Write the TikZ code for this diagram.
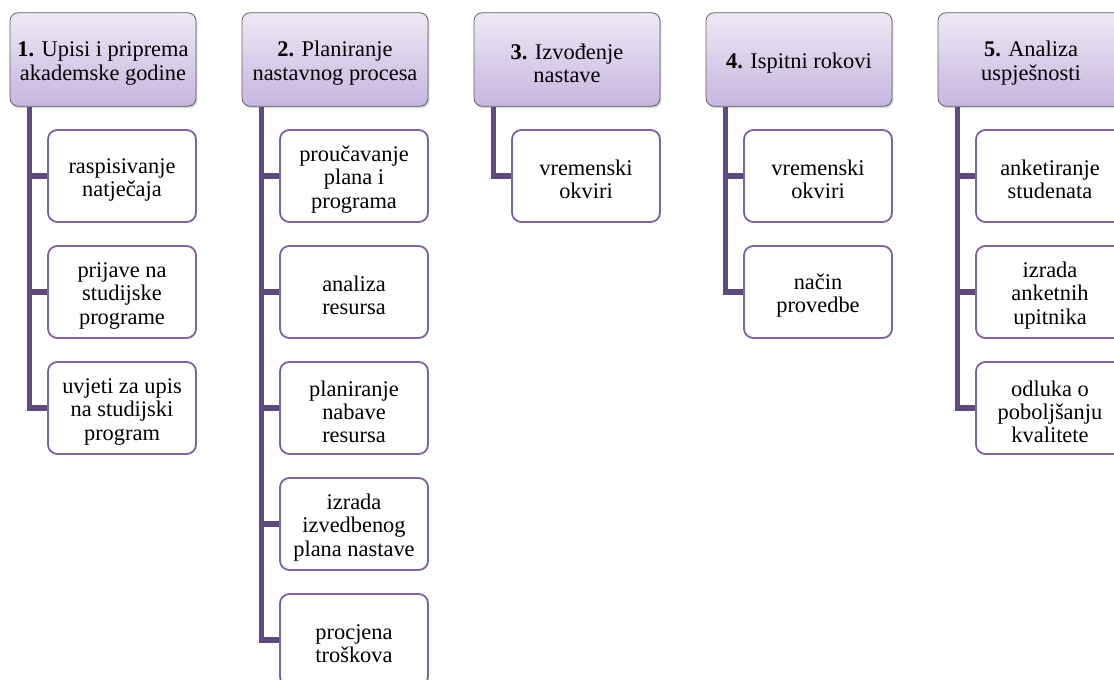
\documentclass[tikz,border=0pt]{standalone}
\usepackage{fontspec}
\setmainfont{Liberation Serif}
\usetikzlibrary{shadows}
\definecolor{headtop}{HTML}{EDE8F5}
\definecolor{headbottom}{HTML}{C8B6E0}
\definecolor{trunkcol}{HTML}{5F4A7D}
\definecolor{itemcol}{HTML}{8064A2}
\begin{document}
\begin{tikzpicture}[x=0.75pt, y=-0.75pt, font=\fontsize{16.8}{17.4}\selectfont,
  head_style/.style={rectangle, rounded corners=6pt, draw=gray!75!black, line width=0.6pt, top color=headtop, bottom color=headbottom, minimum width=139.5pt, minimum height=70pt, text width=136pt, align=flush center, inner sep=0pt, execute at begin node={\rule{0pt}{17pt}}, drop shadow={opacity=0.35, shadow xshift=1pt, shadow yshift=-1.5pt}},
  item_style/.style={rectangle, rounded corners=7pt, draw=itemcol, line width=1.4pt, fill=white, minimum width=111pt, minimum height=69pt, text width=108pt, align=flush center, inner sep=0pt, execute at begin node={\rule{0pt}{17pt}}},
  line_style/.style={draw=trunkcol, line width=3.8pt}]
  \useasboundingbox (0,0) rectangle (1114,680);
  \clip (0,0) rectangle (1114,680);
  \draw
    (103, 59.5) node[head_style] (h1){\textbf{1.} Upisi i priprema\\akademske godine}
    (335, 59.5) node[head_style] (h2){\textbf{2.} Planiranje\\nastavnog procesa}
    (567, 59.5) node[head_style] (h3){\textbf{3.} Izvođenje\\nastave}
    (799, 59.5) node[head_style] (h4){\textbf{4.} Ispitni rokovi}
    (1031, 59.5) node[head_style] (h5){\textbf{5.} Analiza\\uspješnosti};
  \draw
    (122, 176) node[item_style] (c11){raspisivanje\\natječaja}
    (122, 292) node[item_style] (c12){prijave na\\studijske\\programe}
    (122, 408) node[item_style] (c13){uvjeti za upis\\na studijski\\program}
    (354, 176) node[item_style] (c21){proučavanje\\plana i\\programa}
    (354, 292) node[item_style] (c22){analiza\\resursa}
    (354, 408) node[item_style] (c23){planiranje\\nabave\\resursa}
    (354, 524) node[item_style] (c24){izrada\\izvedbenog\\plana nastave}
    (354, 640) node[item_style] (c25){procjena\\troškova}
    (586, 176) node[item_style] (c31){vremenski\\okviri}
    (818, 176) node[item_style] (c41){vremenski\\okviri}
    (818, 292) node[item_style] (c42){način\\provedbe}
    (1050, 176) node[item_style] (c51){anketiranje\\studenata}
    (1050, 292) node[item_style] (c52){izrada\\anketnih\\upitnika}
    (1050, 408) node[item_style] (c53){odluka o\\poboljšanju\\kvalitete};
  \begin{scope}[line cap=butt]
    \draw[line_style] ([xshift=15pt]h1.south west) |- (c13.west);
    \draw[line_style] ([xshift=15pt]h1.south west) |- (c11.west);
    \draw[line_style] ([xshift=15pt]h1.south west) |- (c12.west);
    \draw[line_style] ([xshift=15pt]h2.south west) |- (c25.west);
    \draw[line_style] ([xshift=15pt]h2.south west) |- (c21.west);
    \draw[line_style] ([xshift=15pt]h2.south west) |- (c22.west);
    \draw[line_style] ([xshift=15pt]h2.south west) |- (c23.west);
    \draw[line_style] ([xshift=15pt]h2.south west) |- (c24.west);
    \draw[line_style] ([xshift=15pt]h3.south west) |- (c31.west);
    \draw[line_style] ([xshift=15pt]h4.south west) |- (c42.west);
    \draw[line_style] ([xshift=15pt]h4.south west) |- (c41.west);
    \draw[line_style] ([xshift=15pt]h5.south west) |- (c53.west);
    \draw[line_style] ([xshift=15pt]h5.south west) |- (c51.west);
    \draw[line_style] ([xshift=15pt]h5.south west) |- (c52.west);
  \end{scope}
\end{tikzpicture}
\end{document}
